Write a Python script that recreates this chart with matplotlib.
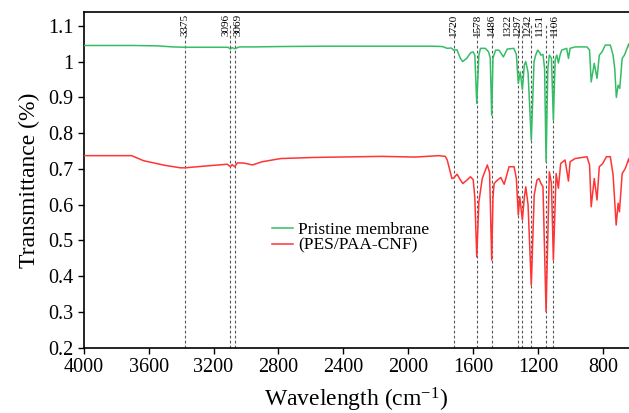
import numpy as np
import matplotlib
matplotlib.use('Agg')
import matplotlib.pyplot as plt

plt.rcParams['font.family'] = ['Liberation Serif', 'DejaVu Serif']
plt.rcParams['mathtext.fontset'] = 'custom'
plt.rcParams['mathtext.rm'] = 'Liberation Serif'
plt.rcParams['mathtext.default'] = 'regular'

#Pristine membrane (green)
wn_green = [4000, 3700, 3550, 3450, 3375, 3200, 3110, 3096, 3085, 3069, 3040, 2950, 2800, 2500,
            2200, 2000, 1850, 1790, 1760, 1735, 1720, 1700, 1680, 1665, 1640, 1615, 1600, 1590,
            1578, 1565, 1555, 1525, 1505, 1495, 1486, 1478, 1462, 1441, 1414, 1390, 1350, 1334,
            1322, 1310, 1297, 1285, 1276, 1262, 1242, 1225, 1215, 1203, 1190, 1183, 1170, 1160,
            1151, 1140, 1131, 1118, 1106, 1095, 1085, 1075, 1065, 1055, 1024, 1013, 1003, 972,
            899, 883, 873, 854, 837, 823, 806, 786, 755, 738, 728, 718, 707, 697, 682, 668, 656,
            641, 631, 624]
t_green = [1.045, 1.045, 1.044, 1.041, 1.040, 1.040, 1.040, 1.035, 1.039, 1.036, 1.041, 1.041, 1.042, 1.043,
           1.043, 1.043, 1.043, 1.042, 1.037, 1.038, 1.032, 1.033, 1.010, 1.000, 1.009, 1.025, 1.027, 1.018,
           0.883, 1.018, 1.037, 1.037, 1.027, 1.010, 0.850, 1.010, 1.032, 1.032, 1.013, 1.035, 1.037, 1.020,
           0.939, 0.971, 0.922, 0.990, 1.000, 0.970, 0.780, 1.000, 1.018, 1.032, 1.025, 1.018, 1.020, 0.980,
           0.720, 0.980, 1.018, 1.010, 0.836, 1.005, 1.018, 0.996, 1.018, 1.032, 1.037, 1.009, 1.037, 1.041,
           1.041, 1.032, 0.943, 0.995, 0.953, 1.018, 1.027, 1.046, 1.046, 1.018, 0.981, 0.900, 0.934, 0.925,
           1.009, 1.018, 1.032, 1.050, 1.027, 1.040]

#(PES/PAA-CNF) (red)
wn_red = [4000, 3704, 3632, 3500, 3404, 3375, 3250, 3115, 3096, 3085, 3069, 3053, 3010, 2960, 2900,
          2784, 2578, 2164, 1958, 1813, 1772, 1760, 1731, 1720, 1699, 1680, 1664, 1640, 1617, 1600,
          1590, 1578, 1565, 1544, 1513, 1499, 1486, 1478, 1471, 1450, 1430, 1409, 1379, 1348, 1334,
          1322, 1313, 1297, 1285, 1276, 1262, 1242, 1224, 1215, 1207, 1195, 1183, 1170, 1151, 1131,
          1118, 1106, 1089, 1075, 1061, 1034, 1013, 1003, 972, 899, 883, 873, 854, 837, 823, 802,
          779, 755, 738, 719, 707, 699, 682, 663, 641, 627]
t_red = [0.737, 0.737, 0.723, 0.710, 0.703, 0.703, 0.708, 0.713, 0.706, 0.712, 0.706, 0.717, 0.716, 0.711, 0.720,
         0.729, 0.732, 0.735, 0.733, 0.737, 0.735, 0.725, 0.673, 0.675, 0.685, 0.670, 0.659, 0.668, 0.678, 0.670,
         0.620, 0.454, 0.608, 0.673, 0.711, 0.690, 0.445, 0.620, 0.659, 0.669, 0.676, 0.657, 0.706, 0.706, 0.673,
         0.571, 0.622, 0.557, 0.620, 0.650, 0.600, 0.375, 0.627, 0.650, 0.669, 0.673, 0.660, 0.650, 0.301, 0.692,
         0.660, 0.445, 0.687, 0.646, 0.715, 0.725, 0.666, 0.720, 0.729, 0.734, 0.711, 0.594, 0.673, 0.613, 0.706, 0.715,
         0.734, 0.734, 0.683, 0.543, 0.604, 0.580, 0.687, 0.701, 0.729, 0.692]

#Marked bands
peaks = [3375, 3096, 3069, 1720, 1578, 1486, 1322, 1297, 1242, 1151, 1106]
# small sideways shift of the crowded labels (points)
label_shift = [0, -3.5, 2.0, 0, 0.7, 0, -7.6, -3.3, -2.5, -4.5, 0.5]

xtick_vals = [4000, 3600, 3200, 2800, 2400, 2000, 1600, 1200, 800]
ytick_vals = [0.2, 0.3, 0.4, 0.5, 0.6, 0.7, 0.8, 0.9, 1.0, 1.1]
ytick_labels = ['0.2', '0.3', '0.4', '0.5', '0.6', '0.7', '0.8', '0.9', '1', '1.1']

fig = plt.figure(figsize=(6.29, 4.13), dpi=100)
ax = fig.add_axes([0.133, 0.158, 0.867, 0.812])

for p, dx in zip(peaks, label_shift):
    ax.plot([p, p], [0.2, 1.105], color='#555555', linestyle=(0, (2.5, 2)), linewidth=0.8, zorder=1)
    ax.annotate(str(p), xy=(p, 1.134), xytext=(dx, 0), textcoords='offset points',
                rotation=90, ha='center', va='top', fontsize=8, zorder=2)

ax.plot(wn_green, t_green, color='#35bd66', linewidth=1.1, label='Pristine membrane', zorder=3)
ax.plot(wn_red, t_red, color='#ff3434', linewidth=1.1, label='(PES/PAA-CNF)', zorder=3)

ax.set_xlim(4000, 640)
ax.set_ylim(0.2, 1.1375)
ax.set_xticks(xtick_vals)
ax.set_xticklabels([str(v) for v in xtick_vals])
ax.set_yticks(ytick_vals)
ax.set_yticklabels(ytick_labels)
ax.tick_params(labelsize=14.5, length=4, width=1)

ax.spines['right'].set_visible(False)
for s in ['left', 'bottom', 'top']:
    ax.spines[s].set_linewidth(1.2)

ax.set_xlabel(r'Wavelength (cm$^{-1}$)', fontsize=17, labelpad=6)
ax.set_ylabel('Transmittance (%)', fontsize=17, labelpad=6)

ax.legend(loc='upper left', bbox_to_anchor=(0.333, 0.395), frameon=False, fontsize=12.5,
          handlelength=1.2, handletextpad=0.3, labelspacing=-0.05, borderaxespad=0)

fig.savefig('out.png', dpi=100)
